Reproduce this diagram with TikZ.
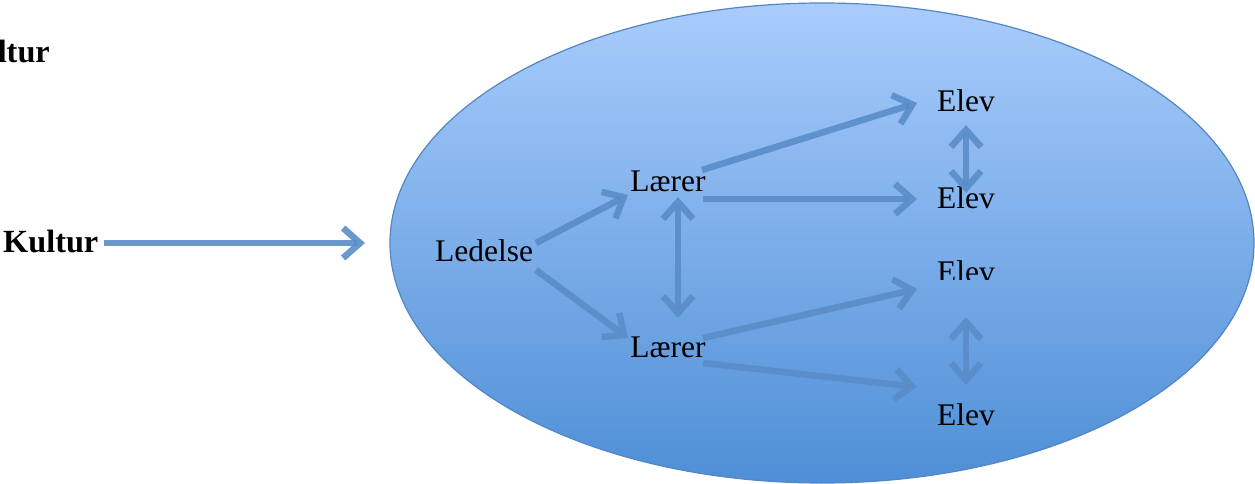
\documentclass[tikz,border=0pt]{standalone}
\usepackage{fontspec}
\setmainfont{Liberation Serif}
\usetikzlibrary{arrows.meta,calc}
\definecolor{elltop}{HTML}{A9CCFC}
\definecolor{ellbot}{HTML}{4E8FD6}
\definecolor{ellline}{HTML}{5586C4}
\definecolor{arrcol}{HTML}{5A8DC8}
\begin{document}
\begin{tikzpicture}[x=1pt,y=-1pt,
  lbl/.style={anchor=base,inner sep=0pt,font=\fontsize{31.5}{36}\selectfont},
  blbl/.style={anchor=base,inner sep=0pt,font=\fontsize{32.3}{38}\selectfont\bfseries},
  tip/.style={Straight Barb[length=17pt,width=30pt]},
  arr/.style={draw=arrcol,draw opacity=0.9,line width=6.5pt,-{Straight Barb[length=17pt,width=30pt]}},
  darr/.style={draw=arrcol,draw opacity=0.9,line width=6.5pt,
    {Straight Barb[length=17pt,width=30pt]}-{Straight Barb[length=17pt,width=30pt]}}]
\useasboundingbox (0,0) rectangle (1255,484);
% ellipse
\shade[top color=elltop,bottom color=ellbot,draw=ellline,line width=1.2pt]
  (822,243) ellipse [x radius=432,y radius=240];
% labels
\node[blbl,anchor=base east] (k0) at (50,63) {Kultur};
\node[blbl,anchor=base west] (k1) at (3,252) {Kultur};
\coordinate (kend) at (365,243);
\node[lbl] (led) at (484,261) {Ledelse};
\node[lbl] (l1) at (668,191) {Lærer};
\node[lbl] (l2) at (668,357) {Lærer};
\node[lbl] (e1) at (966,112) {Elev};
\node[lbl] (e2) at (966,208) {Elev};
\begin{scope}
\clip (900,250) rectangle (1040,279);
\node[lbl] (e3) at (966,282) {Elev};
\end{scope}
\node[lbl] (e4) at (966,425) {Elev};
% connectors
\draw[arr] ($(k1.base east)+(5,-9)$) -- (kend);
\draw[arr] ($(led.base)+(52,-18)$) -- ($(l1.base)+(-40,4)$);
\draw[arr] ($(led.base)+(52,9)$) -- ($(l2.base)+(-40,-19)$);
\draw[darr] ($(l1.base)+(10,6)$) -- ($(l2.base)+(10,-39)$);
\draw[arr] ($(l1.base)+(34,-21)$) -- ($(e1.base)+(-49,-9)$);
\draw[arr] ($(l1.base)+(35,8)$) -- ($(e2.base)+(-49,-9)$);
\draw[arr] ($(l2.base)+(35,-19)$) -- ($(e3.base)+(-49,7)$);
\draw[arr] ($(l2.base)+(35,6)$) -- ($(e4.base)+(-49,-38)$);
\draw[darr] ($(e1.base)+(0,13)$) -- ($(e2.base)+(0,-15)$);
\draw[darr] ($(e3.base)+(0,35)$) -- ($(e4.base)+(0,-40)$);
\end{tikzpicture}
\end{document}
